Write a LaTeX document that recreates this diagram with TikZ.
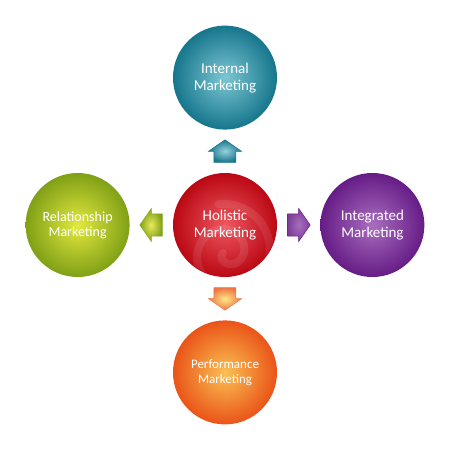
\documentclass[tikz,border=0pt]{standalone}
\usepackage{fontspec}
\setmainfont{Carlito}
\usepackage{tikz}
\usetikzlibrary{positioning, calc}

\definecolor{tealout}{RGB}{22,118,140}
\definecolor{tealin}{RGB}{125,198,212}
\definecolor{greenout}{RGB}{128,160,22}
\definecolor{greenin}{RGB}{226,232,62}
\definecolor{redout}{RGB}{186,8,20}
\definecolor{redin}{RGB}{238,88,96}
\definecolor{purpleout}{RGB}{102,28,134}
\definecolor{purplein}{RGB}{168,110,190}
\definecolor{orangeout}{RGB}{234,84,24}
\definecolor{orangein}{RGB}{250,192,84}

\begin{document}
\begin{tikzpicture}[
  x=1pt, y=1pt,
  node distance=43pt,
  ball/.style={circle, minimum size=104pt, inner sep=0pt, align=center,
               text=white, font=\fontsize{15}{17}\selectfont},
  tealball/.style={ball, inner color=tealin, outer color=tealout},
  greenball/.style={ball, inner color=greenin, outer color=greenout,
                    font=\fontsize{14}{15}\selectfont},
  redball/.style={ball, inner color=redin, outer color=redout},
  purpleball/.style={ball, inner color=purplein, outer color=purpleout},
  orangeball/.style={ball, inner color=orangein, outer color=orangeout,
                     font=\fontsize{13}{15}\selectfont},
  flow/.pic={
    \path[pic actions] (-11,-11) -- (0,-11) -- (0,-16.5) -- (11.5,0)
      -- (0,16.5) -- (0,11) -- (-11,11) -- cycle;
  }
]
\fill[white] (-225,-225) rectangle (225,225);
\useasboundingbox (-225,-225) rectangle (225,225);

% circles
\node[redball] (holistic) {Holistic\\Marketing};
\node[tealball, above=of holistic] (internal) {Internal\\Marketing};
\node[greenball, left=of holistic] (relation) {Relationship\\Marketing};
\node[purpleball, right=of holistic] (integrated) {Integrated\\Marketing};
\node[orangeball, below=of holistic] (perform) {Performance\\Marketing};

% swirl on the centre ball
\begin{scope}
  \clip (holistic.center) circle (51pt);
  \draw[white, opacity=0.09, line width=8pt, line cap=round]
    plot[domain=0:640, samples=90, smooth]
    ({2+(4+\x/14)*cos(\x+180)}, {-28+(4+\x/14)*sin(\x+180)});
\end{scope}

% block arrows
\coordinate (upmid) at ($(holistic.north)!0.5!(internal.south)$);
\coordinate (leftmid) at ($(holistic.west)!0.5!(relation.east)$);
\coordinate (rightmid) at ($(holistic.east)!0.5!(integrated.west)$);
\coordinate (downmid) at ($(holistic.south)!0.5!(perform.north)$);

\pic[rotate=90, draw=tealout, line width=0.5pt, inner color=tealin!80!white,
     outer color=tealout] at (upmid) {flow};
\pic[rotate=180, draw=greenout!90!white, line width=0.5pt,
     inner color=greenin!85!white, outer color=greenout] at (leftmid) {flow};
\pic[draw=purpleout, line width=0.5pt, inner color=purplein,
     outer color=purpleout!85!white] at (rightmid) {flow};
\pic[rotate=-90, draw=orangeout!80!white, line width=0.5pt,
     inner color=orangein!60!yellow!60!white,
     outer color=orangeout!80!white] at (downmid) {flow};

\end{tikzpicture}
\end{document}
